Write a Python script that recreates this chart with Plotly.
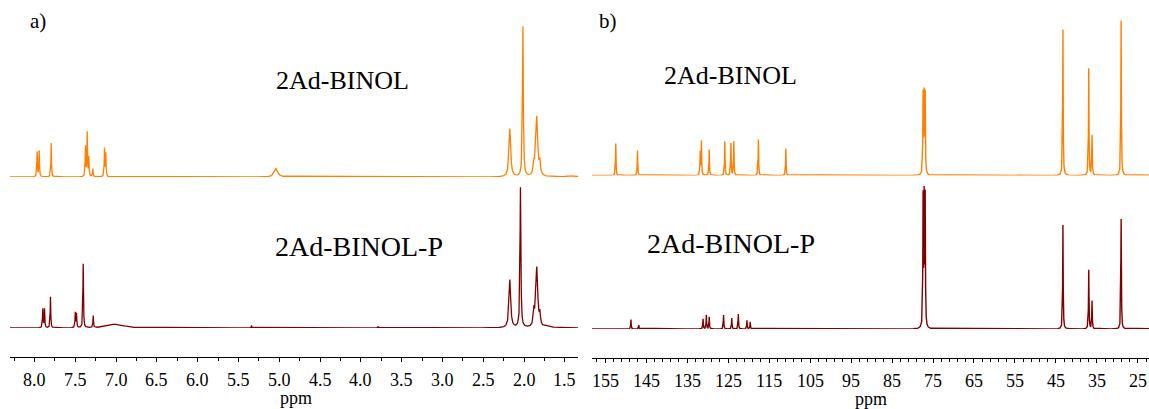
import numpy as np
import plotly.graph_objects as go

# ---------------- 1H NMR peak lists (ppm, intensity, half-width in ppm) ----------------
h1_binol_ppm = [7.967, 7.942, 7.795, 7.375, 7.354, 7.334, 7.285, 7.142, 7.126,
                5.04, 2.175, 2.015, 1.88, 1.845, 1.807, 1.40]
h1_binol_int = [25, 26, 34, 30, 44, 19, 8, 28, 23,
                8.5, 48, 150, 10, 60, 12, 1.5]
h1_binol_hw = [0.004, 0.004, 0.004, 0.004, 0.004, 0.004, 0.004, 0.004, 0.004,
               0.025, 0.012, 0.006, 0.008, 0.014, 0.008, 0.05]

h1_binolp_ppm = [7.898, 7.877, 7.804, 7.50, 7.485, 7.403, 7.28, 7.00,
                 5.34, 3.79, 2.175, 2.045, 1.88, 1.845, 1.807, 1.70]
h1_binolp_int = [19, 19, 31, 15, 14, 64, 12, 4,
                 2.5, 1.8, 48, 140, 14, 60, 11, 1.5]
h1_binolp_hw = [0.004, 0.004, 0.004, 0.004, 0.004, 0.004, 0.004, 0.1,
                0.003, 0.004, 0.012, 0.006, 0.008, 0.014, 0.008, 0.04]

# ---------------- 13C NMR peak lists (ppm, intensity) ----------------
c13_binol_ppm = [152.4, 147.1, 131.8, 131.5, 129.6, 125.8, 124.3, 123.6, 117.6, 110.9,
                 77.42, 77.16, 76.91, 43.3, 37.0, 36.2, 29.1]
c13_binol_int = [32, 25, 23, 34, 26, 34, 32, 34, 36, 27,
                 79, 77, 79, 146, 107, 40, 155]

c13_binolp_ppm = [148.7, 146.8, 131.1, 130.3, 129.6, 126.1, 124.1, 122.5, 120.4, 119.6,
                  77.42, 77.16, 76.91, 43.3, 37.0, 36.2, 29.1]
c13_binolp_int = [9.5, 4, 10, 14, 12, 14, 11, 15, 8.5, 7,
                  128, 125, 128, 104, 59, 28, 110]
c13_hw = 0.07

# Tick labels (ppm)
h1_ticks = [8.0, 7.5, 7.0, 6.5, 6.0, 5.5, 5.0, 4.5, 4.0, 3.5, 3.0, 2.5, 2.0, 1.5]
c13_ticks = [155, 145, 135, 125, 115, 105, 95, 85, 75, 65, 55, 45, 35, 25]
h1_minor_step = 0.25
c13_minor_step = 2

ORANGE = "#ff8000"
MAROON = "#800000"
SERIF = "Liberation Serif"

W, H = 1149, 409


def lorentz_sum(lo, hi, step, centers, heights, widths):
    """Sum of Lorentzian lines evaluated on a grid that also contains each line centre."""
    grid = np.union1d(np.arange(lo, hi, step), np.asarray(centers, dtype=float))
    y = np.zeros_like(grid)
    widths = np.broadcast_to(np.asarray(widths, dtype=float), (len(centers),))
    for c, h, w in zip(centers, heights, widths):
        y += h / (1.0 + ((grid - c) / w) ** 2)
    return grid, y


def px_x(p):
    return p / W


def px_y(p):
    return 1 - p / H


fig = go.Figure()

# 1H spectra
x, y = lorentz_sum(1.30, 8.35, 0.001, h1_binol_ppm, h1_binol_int, h1_binol_hw)
fig.add_trace(go.Scatter(x=x, y=y, mode="lines", line=dict(color=ORANGE, width=1.3),
                         xaxis="x", yaxis="y2", hoverinfo="skip"))
x, y = lorentz_sum(1.30, 8.35, 0.001, h1_binolp_ppm, h1_binolp_int, h1_binolp_hw)
fig.add_trace(go.Scatter(x=x, y=y, mode="lines", line=dict(color=MAROON, width=1.3),
                         xaxis="x", yaxis="y", hoverinfo="skip"))

# 13C spectra
x, y = lorentz_sum(20.0, 160.0, 0.01, c13_binol_ppm, c13_binol_int, c13_hw)
fig.add_trace(go.Scatter(x=x, y=y, mode="lines", line=dict(color=ORANGE, width=1.4),
                         xaxis="x2", yaxis="y4", hoverinfo="skip"))
x, y = lorentz_sum(20.0, 160.0, 0.01, c13_binolp_ppm, c13_binolp_int, c13_hw)
fig.add_trace(go.Scatter(x=x, y=y, mode="lines", line=dict(color=MAROON, width=1.4),
                         xaxis="x2", yaxis="y3", hoverinfo="skip"))

SPAN = 160  # pixel height of each stacked spectrum band


def band(baseline_px):
    return [px_y(baseline_px), px_y(baseline_px - SPAN)]


def ppm_axis(domain, rng, pos, ticks, minor_step):
    step = abs(ticks[1] - ticks[0])
    return dict(
        domain=domain, range=rng, anchor="free", position=pos,
        showline=True, linecolor="black", linewidth=1,
        ticks="outside", ticklen=4, tickcolor="black", tickwidth=1,
        showgrid=False, zeroline=False, showticklabels=False,
        tickmode="linear", tick0=ticks[-1], dtick=step,
        minor=dict(tick0=ticks[-1], dtick=minor_step, ticks="outside", ticklen=3,
                   tickcolor="black", showgrid=False),
    )


fig.update_layout(
    width=W, height=H,
    margin=dict(l=0, r=0, t=0, b=0),
    font=dict(family=SERIF, size=18, color="black"),
    paper_bgcolor="white", plot_bgcolor="rgba(0,0,0,0)",
    showlegend=False,
    xaxis=ppm_axis([px_x(10), px_x(578)], [8.30, 1.34], px_y(357), h1_ticks, h1_minor_step),
    xaxis2=ppm_axis([px_x(592), 1.0], [158.2, 22.3], px_y(358), c13_ticks, c13_minor_step),
    yaxis=dict(domain=band(328), range=[0, SPAN], visible=False, anchor="x"),
    yaxis2=dict(domain=band(177), range=[0, SPAN], visible=False, anchor="x"),
    yaxis3=dict(domain=band(329), range=[0, SPAN], visible=False, anchor="x2"),
    yaxis4=dict(domain=band(175.5), range=[0, SPAN], visible=False, anchor="x2"),
)

# ppm scale numbers, placed on each axis at its tick values
for v in h1_ticks:
    fig.add_annotation(text=f"{v:.1f}", x=v, xref="x", y=px_y(380), yref="paper",
                       xanchor="center", yanchor="middle", showarrow=False,
                       font=dict(family=SERIF, size=18, color="black"))
for v in c13_ticks:
    fig.add_annotation(text=str(v), x=v, xref="x2", y=px_y(381), yref="paper",
                       xanchor="center", yanchor="middle", showarrow=False,
                       font=dict(family=SERIF, size=18, color="black"))

labels = [
    ("a)", 38, 21, 21),
    ("b)", 608, 21, 21),
    ("2Ad-BINOL", 342, 81, 26),
    ("2Ad-BINOL-P", 359, 246, 28),
    ("2Ad-BINOL", 730, 75, 26),
    ("2Ad-BINOL-P", 731, 243, 28),
    ("ppm", 296, 398, 18),
    ("ppm", 871, 399, 18),
]
for text, cx, cy, size in labels:
    fig.add_annotation(
        text=text, x=px_x(cx), y=px_y(cy), xref="paper", yref="paper",
        xanchor="center", yanchor="middle", showarrow=False,
        font=dict(family=SERIF, size=size, color="black"),
    )

fig.write_html("out.html")
